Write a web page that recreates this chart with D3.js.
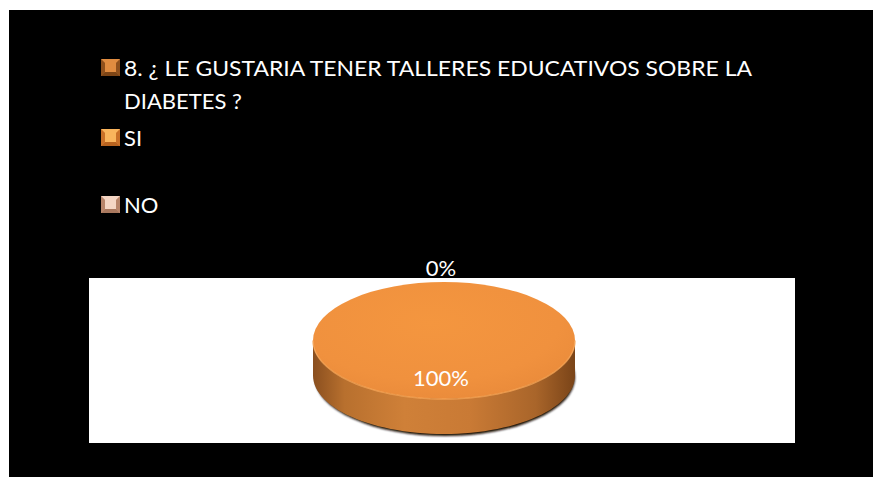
<!DOCTYPE html>
<html>
<head>
<meta charset="utf-8">
<script src="https://cdn.jsdelivr.net/npm/d3@7"></script>
<style>
  html, body { margin: 0; padding: 0; background: #ffffff; }
  svg { display: block; }
</style>
</head>
<body>
<svg id="chart" width="873" height="477"></svg>
<script>
// Survey answers
const categories = ["SI", "NO"];
const values = [100, 0];
const questionLines = ["8. ¿ LE GUSTARIA TENER TALLERES EDUCATIVOS SOBRE LA", "DIABETES ?"];

const svg = d3.select("#chart");
const W = 873, H = 477;

// dark slide background and white plot panel
svg.append("rect").attr("x", 9).attr("y", 10).attr("width", W - 9).attr("height", H - 10).attr("fill", "#000");
svg.append("rect").attr("x", 89).attr("y", 278).attr("width", 706).attr("height", 165).attr("fill", "#fff");

const defs = svg.append("defs");

// colours: question marker, SI, NO
const colour = d3.scaleOrdinal().domain(["Q", ...categories]).range(["#b96d2c", "#f0913e", "#d9a386"]);
const light = d3.scaleOrdinal().domain(["Q", ...categories]).range(["#e08c40", "#f9b45c", "#f4d6c4"]);
const dark = d3.scaleOrdinal().domain(["Q", ...categories]).range(["#7d4516", "#b8631f", "#a9785e"]);

// ---------- legend ----------
const legendItems = [
  { key: "Q", lines: questionLines, y: 59 },
  { key: "SI", lines: [categories[0]], y: 129 },
  { key: "NO", lines: [categories[1]], y: 196 }
];
const mx = 101, mw = 19, mh = 17;
const legend = svg.append("g").attr("class", "legend");
legendItems.forEach(item => {
  const g = legend.append("g").attr("transform", `translate(${mx},${item.y})`);
  g.append("rect").attr("width", mw).attr("height", mh).attr("fill", colour(item.key));
  // bevelled edges
  const b = 4;
  g.append("path").attr("d", `M0,0H${mw}L${mw - b},${b}H${b}Z`).attr("fill", light(item.key));
  g.append("path").attr("d", `M0,${mh}H${mw}L${mw - b},${mh - b}H${b}Z`).attr("fill", dark(item.key));
  g.append("path").attr("d", `M0,0V${mh}L${b},${mh - b}V${b}Z`).attr("fill", dark(item.key)).attr("opacity", 0.7);
  g.append("path").attr("d", `M${mw},0V${mh}L${mw - b},${mh - b}V${b}Z`).attr("fill", dark(item.key)).attr("opacity", 0.7);
  g.append("rect").attr("x", b).attr("y", b).attr("width", mw - 2 * b).attr("height", mh - 2 * b).attr("fill", light(item.key));
  item.lines.forEach((line, i) => {
    g.append("text")
      .attr("x", 124 - mx)
      .attr("y", 17 + i * 33)
      .attr("fill", "#fff")
      .attr("font-family", "Lato, 'Open Sans', sans-serif")
      .attr("font-size", 22)
      .text(line);
  });
});
// fit the long question line to its measured span
legend.selectAll("text").filter(function () { return d3.select(this).text() === questionLines[0]; })
  .each(function () {
    const len = this.getComputedTextLength();
    const target = 628;
    if (Math.abs(len - target) > 2) d3.select(this).attr("textLength", target).attr("lengthAdjust", "spacingAndGlyphs");
  });

// ---------- 3D pie ----------
const cx = 444, cy = 340.5, rx = 131, ry = 58.5, depth = 35;
const pie = d3.pie().sort(null).value(d => d.value);
const data = pie(categories.map((c, i) => ({ name: c, value: values[i] })));
const total = d3.sum(values);

const pt = (a, k = 1) => [cx + rx * k * Math.sin(a), cy - ry * k * Math.cos(a)];

// drop shadow
defs.append("filter").attr("id", "soft").append("feGaussianBlur").attr("stdDeviation", 1.2);
svg.append("ellipse").attr("cx", cx + 1).attr("cy", cy + depth + 2).attr("rx", rx - 1).attr("ry", ry)
  .attr("fill", "#1a0d03").attr("filter", "url(#soft)");

// side wall gradient
const sideGrad = defs.append("linearGradient").attr("id", "side").attr("x1", "0").attr("x2", "1").attr("y1", "0").attr("y2", "0");
[["0", "#8a4f1f"], ["0.12", "#b8702e"], ["0.35", "#cf8038"], ["0.6", "#c97a35"], ["0.85", "#a9652a"], ["1", "#7a4418"]]
  .forEach(([o, c]) => sideGrad.append("stop").attr("offset", o).attr("stop-color", c));

// top face gradient
const topGrad = defs.append("radialGradient").attr("id", "top").attr("cx", "0.45").attr("cy", "0.35").attr("r", "0.7");
[["0", "#f4963f"], ["0.7", "#f0913e"], ["1", "#e98a3a"]]
  .forEach(([o, c]) => topGrad.append("stop").attr("offset", o).attr("stop-color", c));

const pieG = svg.append("g").attr("class", "pie");

// outer wall for the front-facing part of each slice
data.forEach(d => {
  if (d.endAngle - d.startAngle <= 0) return;
  const a0 = Math.max(d.startAngle, Math.PI / 2);
  const a1 = Math.min(d.endAngle, 3 * Math.PI / 2);
  if (a1 <= a0) return;
  const n = 60;
  const top = d3.range(n + 1).map(i => pt(a0 + (a1 - a0) * i / n));
  const bottom = top.map(([x, y]) => [x, y + depth]).reverse();
  pieG.append("path")
    .attr("d", d3.line()([...top, ...bottom]) + "Z")
    .attr("fill", "url(#side)");
});

// top faces
const arc = d3.arc().innerRadius(0).outerRadius(rx);
data.forEach(d => {
  if (d.endAngle - d.startAngle <= 0) return;
  pieG.append("path")
    .attr("transform", `translate(${cx},${cy}) scale(1,${ry / rx})`)
    .attr("d", arc(d))
    .attr("fill", "url(#top)");
});
// soft rim highlight on the front edge of the top face
pieG.append("path")
  .attr("d", d3.line()(d3.range(61).map(i => pt(Math.PI / 2 + Math.PI * i / 60))))
  .attr("fill", "none").attr("stroke", "#f6a556").attr("stroke-width", 1.5).attr("opacity", 0.8);

// percentage labels
const fmt = d3.format(".0%");
data.forEach(d => {
  const mid = (d.startAngle + d.endAngle) / 2;
  const empty = d.endAngle - d.startAngle <= 0;
  const k = empty ? 1.24 : 0.64;
  const [x, y] = pt(mid, k);
  svg.append("text")
    .attr("x", x - 3)
    .attr("y", y + 8)
    .attr("text-anchor", "middle")
    .attr("fill", "#fff")
    .attr("font-family", "Lato, 'Open Sans', sans-serif")
    .attr("font-size", 22)
    .text(fmt(d.data.value / total));
});
</script>
</body>
</html>
